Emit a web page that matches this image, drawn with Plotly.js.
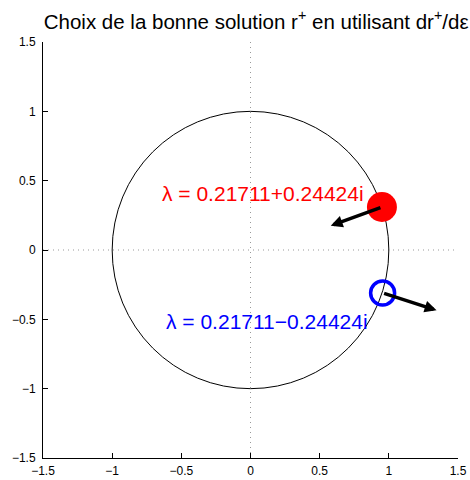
<!DOCTYPE html>
<html>
<head>
<meta charset="utf-8">
<script src="https://cdn.plot.ly/plotly-3.0.1.min.js"></script>
<style>html,body{margin:0;padding:0;background:#fff}</style>
</head>
<body>
<div id="chart" style="width:470px;height:480px"></div>
<script>
// The two candidate roots r+ (complex conjugate pair on the unit circle)
var rootRe = [0.95, 0.955];
var rootIm = [0.31, -0.31];
// dr+/dε direction at each root (arrow displacement)
var derivRe = [-0.37, 0.39];
var derivIm = [-0.135, -0.125];
// eigenvalue labels
var lambdaLabels = ['λ = 0.21711+0.24424i', 'λ = 0.21711−0.24424i'];
var labelX = [0.09, 0.12];
var labelY = [0.405, -0.515];
var tickVals = [-1.5, -1, -0.5, 0, 0.5, 1, 1.5];

var font = 'Liberation Sans, Arial, Helvetica, sans-serif';

var traces = [
  {
    x: [rootRe[0]], y: [rootIm[0]], mode: 'markers', type: 'scatter',
    marker: {size: 30, color: '#ff0000', line: {width: 0}},
    hoverinfo: 'skip', showlegend: false
  },
  {
    x: [rootRe[1]], y: [rootIm[1]], mode: 'markers', type: 'scatter',
    marker: {size: 24, color: 'rgba(0,0,0,0)', line: {width: 3.5, color: '#0000ff'}},
    hoverinfo: 'skip', showlegend: false
  }
];

var annotations = [];
for (var i = 0; i < 2; i++) {
  annotations.push({
    x: rootRe[i] + derivRe[i], y: rootIm[i] + derivIm[i],
    ax: rootRe[i], ay: rootIm[i], axref: 'x', ayref: 'y', xref: 'x', yref: 'y',
    text: '', showarrow: true, arrowhead: 2, arrowsize: 0.7, arrowwidth: 3.4,
    arrowcolor: '#000', standoff: 0, startstandoff: 0
  });
  annotations.push({
    x: labelX[i], y: labelY[i], xref: 'x', yref: 'y', text: lambdaLabels[i],
    showarrow: false, font: {family: font, size: 21, color: i === 0 ? '#ff0000' : '#0000ff'}
  });
}

var layout = {
  width: 470, height: 480,
  margin: {l: 43, r: 12, t: 42, b: 22, pad: 0},
  paper_bgcolor: '#fff', plot_bgcolor: '#fff',
  title: {
    text: 'Choix de la bonne solution r<sup>+</sup> en utilisant dr<sup>+</sup>/dε',
    font: {family: font, size: 20.5, color: '#000'},
    x: 0.545, xanchor: 'center', y: 0.955, yanchor: 'middle'
  },
  xaxis: {
    range: [-1.5, 1.5], tickvals: tickVals, ticks: 'inside', ticklen: 5, tickcolor: '#000',
    showline: true, linecolor: '#000', linewidth: 1, showgrid: false, zeroline: false,
    tickfont: {family: font, size: 12, color: '#000'}, fixedrange: true, ticklabelstandoff: 2
  },
  yaxis: {
    range: [-1.5, 1.5], tickvals: tickVals, ticks: 'inside', ticklen: 5, tickcolor: '#000',
    showline: true, linecolor: '#000', linewidth: 1, showgrid: false, zeroline: false,
    tickfont: {family: font, size: 12, color: '#000'}, fixedrange: true, ticklabelstandoff: 4
  },
  shapes: [
    {type: 'line', xref: 'x', yref: 'y', x0: -1.5, x1: 1.5, y0: 0, y1: 0,
     line: {color: '#999', width: 1, dash: '1px,4px'}, layer: 'below'},
    {type: 'line', xref: 'x', yref: 'y', x0: 0, x1: 0, y0: -1.5, y1: 1.5,
     line: {color: '#999', width: 1, dash: '1px,4px'}, layer: 'below'},
    {type: 'circle', xref: 'x', yref: 'y', x0: -1, x1: 1, y0: -1, y1: 1,
     line: {color: '#000', width: 1}, layer: 'below'}
  ],
  annotations: annotations,
  showlegend: false
};

Plotly.newPlot('chart', traces, layout, {displayModeBar: false, staticPlot: true});
</script>
</body>
</html>
